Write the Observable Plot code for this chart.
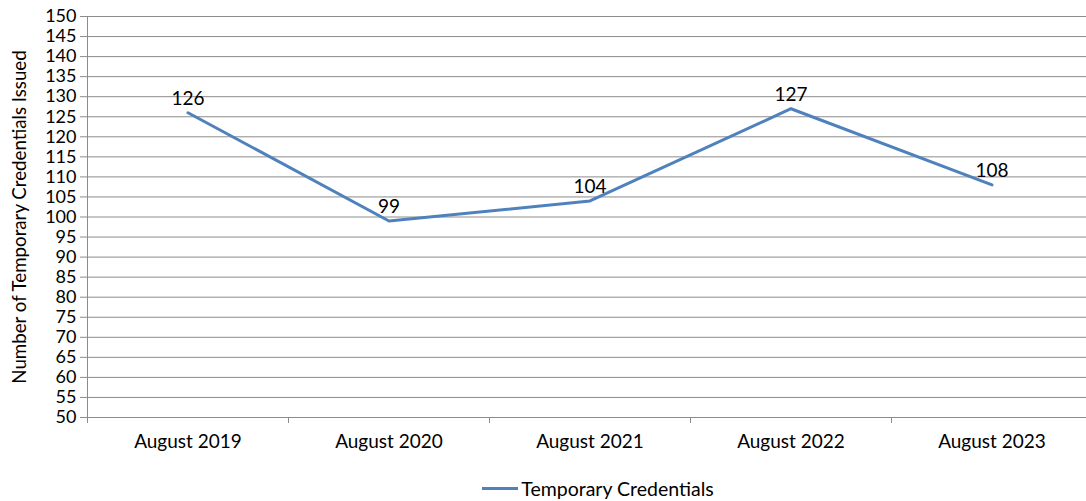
<!DOCTYPE html>
<html>
<head>
<meta charset="utf-8">
<script src="https://cdn.jsdelivr.net/npm/d3@7"></script>
<script src="https://cdn.jsdelivr.net/npm/@observablehq/plot@0.6"></script>
<style>
  body { margin: 0; background: #fff; font-family: Lato, "Open Sans", sans-serif; }
  #chart svg { display: block; }
  #legend { height: 36px; display: flex; justify-content: center; align-items: center; font-size: 19.5px; color: #000; padding-left: 110px; margin-top: 5px; }
  #legend .sw { display: inline-block; width: 36px; height: 3px; background: #4F81BD; margin-right: 3px; }
</style>
</head>
<body>
<div id="chart"></div>
<div id="legend"></div>
<script>
const categories = ["August 2019", "August 2020", "August 2021", "August 2022", "August 2023"];
const values = [126, 99, 104, 127, 108];
const seriesName = "Temporary Credentials";
const yTicks = [50, 55, 60, 65, 70, 75, 80, 85, 90, 95, 100, 105, 110, 115, 120, 125, 130, 135, 140, 145, 150];
const yLabel = "Number of Temporary Credentials Issued";

const data = categories.map((c, i) => ({ category: c, pos: i + 0.5, value: values[i] }));
const boundaries = categories.map((c, i) => i);
const centers = categories.map((c, i) => i + 0.5);

const grid = "#8c8c8c";
const chart = Plot.plot({
  width: 1086,
  height: 465,
  marginLeft: 87,
  marginRight: 0,
  marginTop: 16,
  marginBottom: 48,
  style: { fontFamily: "Lato, 'Open Sans', sans-serif", fontSize: "19px", color: "#000", background: "#fff" },
  x: { type: "linear", domain: [0, categories.length], range: [87, 87 + 201 * categories.length] },
  y: { domain: [50, 150] },
  marks: [
    Plot.ruleY(yTicks, { stroke: grid, strokeWidth: 1 }),
    Plot.ruleX([0], { stroke: grid, strokeWidth: 1 }),
    Plot.axisY({ ticks: yTicks, tickSize: 7, tickPadding: 4, stroke: grid, fill: "#000", fontSize: 18, label: null }),
    Plot.axisY({ ticks: [], tickSize: 0, fontSize: 18.7, fill: "#000",
      label: yLabel, labelAnchor: "center", labelArrow: "none", labelOffset: 75 }),
    Plot.axisX({ ticks: boundaries, tickSize: 6, stroke: grid, tickFormat: () => "", label: null }),
    Plot.axisX({ ticks: centers, tickSize: 0, tickPadding: 17, fill: "#000", fontSize: 19,
      tickFormat: (d) => categories[Math.floor(d)], label: null }),
    Plot.line(data, { x: "pos", y: "value", stroke: "#4F81BD", strokeWidth: 3 }),
    Plot.text(data, { x: "pos", y: "value", text: (d) => String(d.value), dy: -14, fontSize: 19, fill: "#000" })
  ]
});
document.getElementById("chart").append(chart);
const lg = document.getElementById("legend");
lg.innerHTML = '<span class="sw"></span><span></span>';
lg.lastChild.textContent = seriesName;
</script>
</body>
</html>
